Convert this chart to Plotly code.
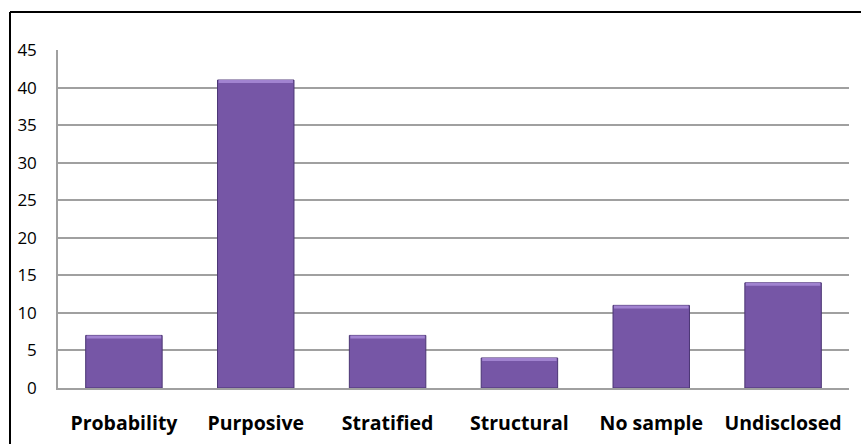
import plotly.graph_objects as go

categories = ["Probability", "Purposive", "Stratified", "Structural", "No sample", "Undisclosed"]
counts = [7, 41, 7, 4, 11, 14]
y_ticks = [0, 5, 10, 15, 20, 25, 30, 35, 40, 45]

W, H = 861, 444
L, R, T, B = 58, 12, 50, 56
pw, ph = W - L - R, H - T - B

fig = go.Figure()

# main bars
fig.add_trace(go.Bar(
    x=categories, y=counts,
    marker=dict(color="#7656a6", line=dict(color="#4b3574", width=1)),
    width=0.58, hoverinfo="x+y",
))
# lighter bevel band along the top of each bar
bevel = 0.4
fig.add_trace(go.Bar(
    x=categories, y=[bevel] * len(counts), base=[c - bevel for c in counts],
    marker=dict(color="#a183d0", line=dict(width=0)),
    width=0.565, hoverinfo="skip",
))

def px_x(p):
    return (p - L) / pw

def px_y(p):
    return 1 - (p - T) / ph

# chart-area border (left and top edges)
fig.add_shape(type="line", xref="paper", yref="paper",
              x0=px_x(10), x1=px_x(10), y0=px_y(12), y1=px_y(H),
              line=dict(color="black", width=2))
fig.add_shape(type="line", xref="paper", yref="paper",
              x0=px_x(10), x1=px_x(W), y0=px_y(12), y1=px_y(12),
              line=dict(color="black", width=2))

fig.update_layout(
    width=W, height=H,
    margin=dict(l=L, r=R, t=T, b=B, autoexpand=False),
    paper_bgcolor="white", plot_bgcolor="white",
    showlegend=False, barmode="overlay",
    font=dict(family="'Open Sans', sans-serif", color="black"),
    xaxis=dict(
        automargin=False,
        showline=True, linecolor="#a0a0a0", linewidth=1.5,
        tickfont=dict(size=19.5, family="'Open Sans', sans-serif", weight="bold"),
        ticks="", ticklabelstandoff=17,
    ),
    yaxis=dict(
        automargin=False,
        range=[0, 45], tickvals=y_ticks,
        showline=True, linecolor="#a0a0a0", linewidth=1.5,
        showgrid=True, gridcolor="#a0a0a0", gridwidth=1.5,
        tickfont=dict(size=17), ticks="", ticklabelstandoff=16,
        zeroline=False,
    ),
)

fig.write_html("out.html")
